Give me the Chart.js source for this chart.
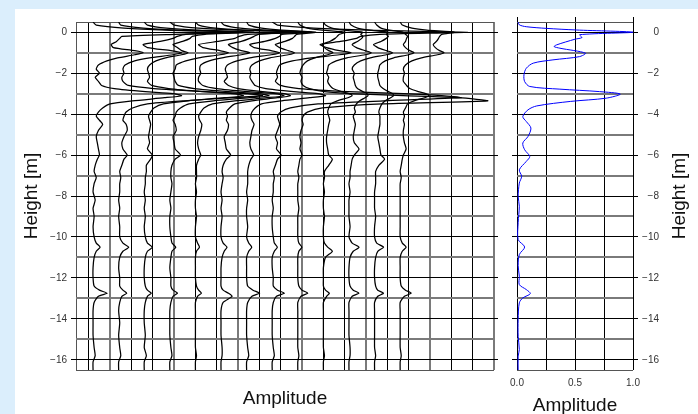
<!DOCTYPE html>
<html>
<head>
<meta charset="utf-8">
<script src="https://cdn.jsdelivr.net/npm/chart.js@4.4.1/dist/chart.umd.min.js"></script>
<style>
html, body { margin: 0; padding: 0; overflow: hidden; }
body { width: 698px; height: 414px; background: #dbeefc; position: relative; }
#panel { position: absolute; left: 15px; top: 9px; width: 683px; height: 405px; background: #fff; }
#traces { position: absolute; left: 0; top: 0; }
#envelope { position: absolute; left: 505px; top: 0; }
</style>
</head>
<body>
<div id="panel"></div>
<canvas id="traces" width="505" height="414"></canvas>
<canvas id="envelope" width="193" height="424"></canvas>
<script>
// sample heights shared by all traces [m]
const heights = [0.5, 0.35, 0.2, 0.1, 0, -0.1, -0.2, -0.3, -0.45, -0.6,
    -0.75, -0.9, -1.0, -1.1, -1.25, -1.4, -1.6, -1.8, -2.0, -2.2,
    -2.4, -2.6, -2.75, -2.9, -3.0, -3.1, -3.2, -3.35, -3.5, -3.7,
    -3.9, -4.1, -4.3, -4.5, -4.8, -5.1, -5.4, -5.7, -6.0, -6.2,
    -6.5, -6.8, -7.1, -7.4, -7.8, -8.2, -8.6, -9.0, -9.5, -10.0,
    -10.3, -10.5, -10.7, -11.0, -11.5, -12.0, -12.4, -12.6, -12.75, -12.9,
    -13.2, -13.6, -14.2, -14.8, -15.4, -15.8, -16.1, -16.5];

// baseline of each trace along the amplitude axis
const traceOffsets = [-0.85, 0.35, 1.55, 2.75, 3.95, 5.15, 6.35, 7.55, 8.75, 9.95, 11.15, 12.35, 13.55];

const trace1 = [0.05, 0.2, 1.5, 3.5, 7.0, 3.9, 1.4, 1.3, 1.15, 0.9, 1.0, 2.0, 2.4, 2.0, 1.2, 0.7, 0.3, 0.2, 0.35, 0.15, 0.3, 0.45, 1.05, 2.5, 3.8, 4.2, 3.4, 1.9, 0.85, 0.5, 0.3, 0.2, 0.35, 0.5, 0.3, 0.2, 0.25, 0.3, 0.35, 0.25, 0.15, 0.1, 0.2, 0.1, 0.05, 0.15, 0.05, 0.1, 0.05, 0.1, 0.2, 0.38, 0.2, 0.1, 0.05, 0.05, 0.1, 0.35, 0.71, 0.3, 0.1, 0.05, 0.05, 0.05, 0.1, 0.15, 0.05, 0.05];
const trace2 = [0.05, 0.15, 1.2, 2.8, 5.6, 3.2, 2.8, 2.6, 2.0, 1.2, 1.4, 2.5, 3.0, 2.6, 1.5, 0.8, 0.35, 0.25, 0.3, 0.2, 0.25, 0.5, 1.7, 4.1, 6.1, 6.8, 5.4, 3.1, 1.4, 0.7, 0.4, 0.3, 0.25, 0.4, 0.45, 0.3, 0.2, 0.25, 0.45, 0.3, 0.2, 0.1, 0.15, 0.1, 0.1, 0.05, 0.1, 0.05, 0.1, 0.1, 0.25, 0.52, 0.25, 0.1, 0.05, 0.1, 0.1, 0.25, 0.43, 0.2, 0.1, 0.05, 0.1, 0.05, 0.1, 0.15, 0.05, 0.05];
const trace3 = [0.05, 0.2, 1.1, 2.6, 5.2, 2.9, 2.3, 2.2, 1.85, 1.4, 1.6, 1.8, 2.1, 1.8, 1.05, 0.6, 0.3, 0.2, 0.25, 0.3, 0.2, 0.4, 1.2, 2.8, 4.2, 4.7, 3.8, 2.1, 0.95, 0.5, 0.35, 0.25, 0.3, 0.35, 0.3, 0.25, 0.3, 0.2, 0.43, 0.35, 0.15, 0.15, 0.1, 0.1, 0.05, 0.1, 0.05, 0.1, 0.05, 0.1, 0.2, 0.43, 0.2, 0.1, 0.05, 0.05, 0.1, 0.2, 0.38, 0.2, 0.1, 0.05, 0.05, 0.1, 0.05, 0.15, 0.05, 0.05];
const trace4 = [0.05, 0.25, 1.4, 3.3, 6.6, 3.7, 3.3, 3.1, 2.3, 1.4, 1.6, 2.4, 2.8, 2.4, 1.4, 0.8, 0.35, 0.3, 0.2, 0.25, 0.3, 0.45, 1.2, 2.8, 4.2, 4.7, 3.8, 2.1, 0.95, 0.55, 0.35, 0.3, 0.2, 0.3, 0.35, 0.2, 0.25, 0.3, 0.55, 0.3, 0.15, 0.1, 0.1, 0.15, 0.1, 0.05, 0.1, 0.05, 0.05, 0.1, 0.15, 0.33, 0.15, 0.1, 0.05, 0.1, 0.1, 0.2, 0.41, 0.2, 0.1, 0.05, 0.05, 0.05, 0.1, 0.15, 0.05, 0.05];
const trace5 = [0.05, 0.2, 1.0, 2.4, 4.7, 3.0, 2.8, 2.6, 2.2, 1.6, 1.8, 2.2, 2.6, 2.2, 1.3, 0.7, 0.3, 0.25, 0.3, 0.2, 0.2, 0.4, 1.05, 2.5, 3.8, 4.2, 3.4, 1.9, 0.85, 0.45, 0.3, 0.2, 0.25, 0.35, 0.3, 0.2, 0.15, 0.2, 0.3, 0.2, 0.1, 0.1, 0.1, 0.05, 0.1, 0.05, 0.05, 0.1, 0.05, 0.05, 0.15, 0.24, 0.1, 0.05, 0.05, 0.05, 0.1, 0.2, 0.33, 0.15, 0.05, 0.05, 0.05, 0.05, 0.05, 0.1, 0.05, 0.05];
const trace6 = [0.05, 0.2, 0.95, 2.2, 4.3, 2.9, 2.8, 2.6, 2.1, 1.4, 1.6, 2.4, 2.8, 2.4, 1.4, 0.8, 0.35, 0.25, 0.3, 0.35, 0.2, 0.4, 0.85, 2.0, 3.0, 3.3, 2.7, 1.5, 0.7, 0.45, 0.3, 0.35, 0.3, 0.4, 0.35, 0.2, 0.25, 0.3, 0.5, 0.3, 0.15, 0.1, 0.15, 0.1, 0.05, 0.1, 0.05, 0.1, 0.05, 0.05, 0.15, 0.33, 0.2, 0.1, 0.05, 0.05, 0.05, 0.15, 0.4, 0.57, 0.15, 0.05, 0.05, 0.05, 0.1, 0.1, 0.05, 0.05];
const trace7 = [0.05, 0.15, 0.75, 1.7, 3.3, 2.4, 2.3, 2.2, 1.85, 1.4, 1.6, 2.0, 2.3, 2.0, 1.15, 0.65, 0.3, 0.2, 0.25, 0.2, 0.3, 0.45, 0.95, 2.25, 3.4, 3.75, 3.0, 1.7, 0.75, 0.45, 0.3, 0.25, 0.3, 0.4, 0.3, 0.25, 0.2, 0.25, 0.38, 0.25, 0.15, 0.1, 0.1, 0.1, 0.05, 0.1, 0.05, 0.05, 0.1, 0.05, 0.15, 0.29, 0.15, 0.05, 0.05, 0.05, 0.1, 0.35, 0.66, 0.3, 0.1, 0.05, 0.05, 0.05, 0.1, 0.15, 0.05, 0.05];
const trace8 = [0.05, 0.3, 2.0, 4.6, 9.2, 5.1, 4.2, 4.0, 3.25, 2.3, 2.6, 3.2, 3.75, 3.2, 1.9, 1.0, 0.4, 0.3, 0.25, 0.3, 0.2, 0.45, 1.3, 3.6, 6.2, 8.0, 8.9, 5.3, 2.2, 0.9, 0.45, 0.3, 0.35, 0.4, 0.3, 0.2, 0.3, 0.25, 0.47, 0.3, 0.2, 0.1, 0.15, 0.1, 0.1, 0.05, 0.1, 0.05, 0.05, 0.1, 0.15, 0.29, 0.15, 0.05, 0.05, 0.1, 0.1, 0.3, 0.62, 0.25, 0.1, 0.05, 0.05, 0.05, 0.1, 0.15, 0.05, 0.05];
const trace9 = [0.05, 0.15, 0.5, 1.2, 2.3, 2.0, 1.9, 1.8, 1.55, 1.2, 1.3, 1.5, 1.7, 1.45, 0.85, 0.5, 0.3, 0.2, 0.15, 0.25, 0.2, 0.3, 0.6, 1.3, 2.5, 5.0, 7.6, 8.95, 4.0, 1.2, 0.5, 0.3, 0.25, 0.3, 0.2, 0.15, 0.2, 0.15, 0.25, 0.15, 0.1, 0.05, 0.1, 0.05, 0.05, 0.05, 0.1, 0.05, 0.05, 0.05, 0.1, 0.24, 0.1, 0.05, 0.05, 0.05, 0.1, 0.25, 0.52, 0.2, 0.05, 0.05, 0.05, 0.05, 0.05, 0.1, 0.05, 0.05];
const trace10 = [0.05, 0.15, 0.45, 1.0, 1.9, 1.8, 1.9, 1.85, 1.65, 1.4, 1.6, 2.0, 2.3, 2.0, 1.15, 0.65, 0.3, 0.25, 0.2, 0.3, 0.25, 0.35, 0.5, 0.9, 1.25, 1.4, 1.2, 0.7, 0.4, 0.3, 0.25, 0.3, 0.35, 0.3, 0.25, 0.2, 0.2, 0.25, 0.3, 0.47, 0.3, 0.1, 0.1, 0.05, 0.1, 0.05, 0.05, 0.1, 0.05, 0.05, 0.1, 0.25, 0.47, 0.15, 0.05, 0.05, 0.05, 0.15, 0.33, 0.2, 0.05, 0.05, 0.05, 0.05, 0.05, 0.1, 0.05, 0.05];
const trace11 = [0.05, 0.15, 0.45, 1.0, 1.9, 1.8, 1.9, 1.8, 1.55, 1.2, 1.4, 1.8, 2.1, 1.8, 1.05, 0.6, 0.3, 0.2, 0.3, 0.25, 0.3, 0.35, 0.45, 0.7, 0.9, 0.94, 0.8, 0.55, 0.4, 0.3, 0.35, 0.25, 0.3, 0.35, 0.3, 0.25, 0.3, 0.52, 0.3, 0.2, 0.15, 0.1, 0.1, 0.05, 0.1, 0.05, 0.05, 0.05, 0.1, 0.05, 0.2, 0.52, 0.25, 0.1, 0.05, 0.05, 0.1, 0.25, 0.52, 0.2, 0.05, 0.05, 0.05, 0.05, 0.1, 0.1, 0.05, 0.05];
const trace12 = [0.05, 0.15, 0.35, 0.75, 1.4, 1.5, 1.6, 1.55, 1.5, 1.4, 1.5, 1.7, 1.9, 1.65, 0.95, 0.55, 0.3, 0.25, 0.2, 0.2, 0.25, 0.3, 0.45, 0.7, 0.9, 0.94, 0.8, 0.55, 0.4, 0.3, 0.25, 0.3, 0.3, 0.3, 0.25, 0.2, 0.25, 0.3, 0.35, 0.52, 0.25, 0.1, 0.1, 0.1, 0.05, 0.05, 0.05, 0.1, 0.05, 0.05, 0.15, 0.47, 0.2, 0.1, 0.05, 0.05, 0.1, 0.2, 0.47, 0.2, 0.05, 0.05, 0.05, 0.05, 0.05, 0.1, 0.05, 0.05];
const trace13 = [0.05, 0.15, 0.6, 1.3, 2.6, 2.0, 1.9, 1.85, 1.75, 1.6, 1.7, 1.9, 2.1, 1.8, 1.05, 0.6, 0.3, 0.2, 0.25, 0.2, 0.2, 0.35, 0.5, 0.9, 1.25, 1.4, 1.2, 0.7, 0.4, 0.3, 0.2, 0.25, 0.2, 0.25, 0.2, 0.2, 0.25, 0.33, 0.2, 0.15, 0.1, 0.05, 0.1, 0.05, 0.05, 0.05, 0.05, 0.05, 0.05, 0.05, 0.15, 0.33, 0.15, 0.05, 0.05, 0.05, 0.1, 0.3, 0.57, 0.25, 0.05, 0.05, 0.05, 0.05, 0.05, 0.1, 0.05, 0.05];
const traces = [trace1, trace2, trace3, trace4, trace5, trace6, trace7, trace8, trace9, trace10, trace11, trace12, trace13];

// normalised mean amplitude (right panel)
const meanHeights = [0.49, 0.36, 0.27, 0.19, 0.11, 0, -0.12, -0.26, -0.34, -0.62,
    -0.7, -0.78, -1.02, -1.19, -1.35, -1.51, -1.76, -2.08, -2.41, -2.65,
    -2.78, -2.9, -3.02, -3.22, -3.38, -3.6, -3.79, -4.12, -4.36, -4.68,
    -5.09, -5.41, -5.74, -6.07, -6.31, -6.72, -7.04, -7.37, -8.02, -8.5,
    -9.3, -10.13, -10.49, -10.86, -11.4, -11.92, -12.33, -12.57, -12.77, -12.98,
    -13.22, -14.03, -14.85, -15.5, -15.82, -16.5];
const meanAmplitude = [0.01, 0.02, 0.08, 0.25, 0.51, 1.0, 0.54, 0.56, 0.5, 0.34,
    0.32, 0.37, 0.59, 0.54, 0.31, 0.14, 0.08, 0.06, 0.066, 0.11,
    0.37, 0.71, 0.89, 0.77, 0.46, 0.17, 0.095, 0.05, 0.08, 0.12,
    0.095, 0.05, 0.066, 0.11, 0.08, 0.02, 0.04, 0.02, 0.01, 0.02,
    0.01, 0.01, 0.066, 0.02, 0.01, 0.02, 0.02, 0.08, 0.115, 0.05,
    0.02, 0.01, 0.01, 0.02, 0.01, 0.01];
const ampLabels = [0, 0.5, 1];

const FONT = '"Liberation Sans", Arial, Helvetica, sans-serif';
Chart.defaults.font.family = FONT;
Chart.defaults.color = '#333';
Chart.defaults.animation = false;

const BLACK = '#000';
const GRAY = '#7a7a7a';
const EDGE = '#555';
const CLEAR = 'rgba(0,0,0,0)';

const near = (a, b) => Math.abs(a - b) < 1e-6;
const isWhole = v => near(v, Math.round(v));
const isEven = v => isWhole(v / 2);
const heightLabel = v => v === 0 ? '0' : (v < 0 ? '\u2212' : '') + Math.abs(v);

// grid lines every metre plus both edges
function heightLines(scale) {
    const vals = [scale.min, scale.max];
    for (let v = Math.ceil(scale.min); v <= Math.floor(scale.max); v++) {
        if (!near(v, scale.min) && !near(v, scale.max)) vals.push(v);
    }
    scale.ticks = vals.sort((a, b) => a - b).map(v => ({ value: v }));
}
function heightGridColor(c) {
    const v = c.tick.value;
    if (!isWhole(v)) return EDGE;
    return isEven(v) ? BLACK : GRAY;
}
function heightGridWidth(c) {
    const v = c.tick.value;
    return isWhole(v) && !isEven(v) ? 2 : 1;
}
function heightTickColor(c) {
    return isEven(c.tick.value) ? BLACK : CLEAR;
}
function heightAxis(position, opts) {
    return Object.assign({
        type: 'linear',
        position: position,
        min: -16.5,
        max: 0.5,
        afterBuildTicks: heightLines,
        grid: {
            color: heightGridColor,
            lineWidth: heightGridWidth,
            tickColor: heightTickColor,
            tickWidth: 1,
            tickLength: 5
        },
        border: { display: false },
        ticks: {
            font: { size: 10 },
            padding: 4,
            callback: v => isEven(v) ? heightLabel(v) : ''
        }
    }, opts);
}

const rightTitle = {
    id: 'rightTitle',
    afterDraw(chart, args, opts) {
        const ctx = chart.ctx;
        const area = chart.chartArea;
        ctx.save();
        ctx.font = opts.size + 'px ' + FONT;
        ctx.fillStyle = opts.color;
        ctx.textAlign = 'center';
        ctx.textBaseline = 'middle';
        ctx.translate(opts.x, (area.top + area.bottom) / 2);
        ctx.rotate(-Math.PI / 2);
        ctx.fillText(opts.text, 0, 0);
        ctx.restore();
    }
};

// left panel: wiggle traces
new Chart(document.getElementById('traces'), {
    type: 'scatter',
    data: {
        datasets: traces.map((amp, i) => ({
            data: heights.map((h, j) => ({ x: traceOffsets[i] + amp[j], y: h })),
            showLine: true,
            borderColor: BLACK,
            borderWidth: 1.25,
            pointRadius: 0,
            tension: 0.2
        }))
    },
    options: {
        responsive: false,
        layout: { padding: { top: 22, left: 0, right: 0, bottom: 0 } },
        plugins: { legend: { display: false }, tooltip: { enabled: false } },
        scales: {
            x: {
                type: 'linear',
                min: -1.6,
                max: 18,
                afterBuildTicks: scale => {
                    const vals = [scale.min];
                    for (let v = -1; v <= scale.max; v++) vals.push(v);
                    scale.ticks = vals.map(v => ({ value: v }));
                },
                afterFit: scale => { scale.height = 44; },
                grid: {
                    color: c => !isWhole(c.tick.value) ? EDGE : (near(c.tick.value % 3, 0) ? GRAY : BLACK),
                    lineWidth: c => isWhole(c.tick.value) && near(c.tick.value % 3, 0) ? 2 : 1,
                    drawTicks: false
                },
                border: { display: false },
                ticks: { display: false },
                title: {
                    display: true,
                    text: 'Amplitude',
                    color: '#111',
                    font: { size: 19 },
                    padding: { top: 0, bottom: 4 }
                }
            },
            y: heightAxis('left', {
                afterFit: scale => { scale.width = 76; },
                title: {
                    display: true,
                    text: 'Height [m]',
                    color: '#111',
                    font: { size: 19 },
                    padding: { top: 20.6, bottom: 0 }
                }
            }),
            y2: heightAxis('right', {
                afterFit: scale => { scale.width = 11; },
                grid: {
                    drawOnChartArea: false,
                    tickColor: heightTickColor,
                    tickLength: 4
                },
                ticks: { display: false }
            })
        }
    }
});

// right panel: normalised mean amplitude
new Chart(document.getElementById('envelope'), {
    type: 'scatter',
    data: {
        datasets: [{
            data: meanHeights.map((h, j) => ({ x: meanAmplitude[j], y: h })),
            showLine: true,
            borderColor: '#0000ff',
            borderWidth: 1,
            pointRadius: 0,
            tension: 0.3
        }]
    },
    options: {
        responsive: false,
        layout: { padding: { top: 17, left: 0, right: 39, bottom: 0 } },
        plugins: {
            legend: { display: false },
            tooltip: { enabled: false },
            rightTitle: { text: 'Height [m]', x: 174.5, size: 19, color: '#111' }
        },
        scales: {
            x: {
                type: 'linear',
                min: 0,
                max: 1,
                afterBuildTicks: scale => {
                    scale.ticks = [0, 0.25, 0.5, 0.75, 1].map(v => ({ value: v }));
                },
                afterFit: scale => { scale.height = 54; },
                grid: { color: BLACK, lineWidth: 1, tickColor: CLEAR, tickLength: 4 },
                border: { display: false },
                ticks: {
                    font: { size: 10 },
                    padding: 3,
                    maxRotation: 0,
                    autoSkip: false,
                    callback: v => ampLabels.some(a => near(a, v)) ? v.toFixed(1) : ''
                },
                title: {
                    display: true,
                    text: 'Amplitude',
                    color: '#111',
                    font: { size: 19 },
                    padding: { top: 0, bottom: 7.2 }
                }
            },
            xTop: {
                type: 'linear',
                position: 'top',
                min: 0,
                max: 1,
                afterBuildTicks: scale => {
                    scale.ticks = ampLabels.map(v => ({ value: v }));
                },
                afterFit: scale => { scale.height = 5; },
                grid: { drawOnChartArea: false, tickColor: BLACK, tickLength: 5 },
                border: { display: false },
                ticks: { display: false }
            },
            y: heightAxis('left', {
                afterFit: scale => { scale.width = 12; },
                ticks: { display: false }
            }),
            yR: heightAxis('right', {
                afterFit: scale => { scale.width = 26; },
                grid: { drawOnChartArea: false, tickColor: heightTickColor, tickLength: 5 },
                ticks: {
                    font: { size: 10 },
                    padding: 4,
                    crossAlign: 'far',
                    callback: v => isEven(v) ? heightLabel(v) : ''
                }
            })
        }
    },
    plugins: [rightTitle]
});
</script>
</body>
</html>
